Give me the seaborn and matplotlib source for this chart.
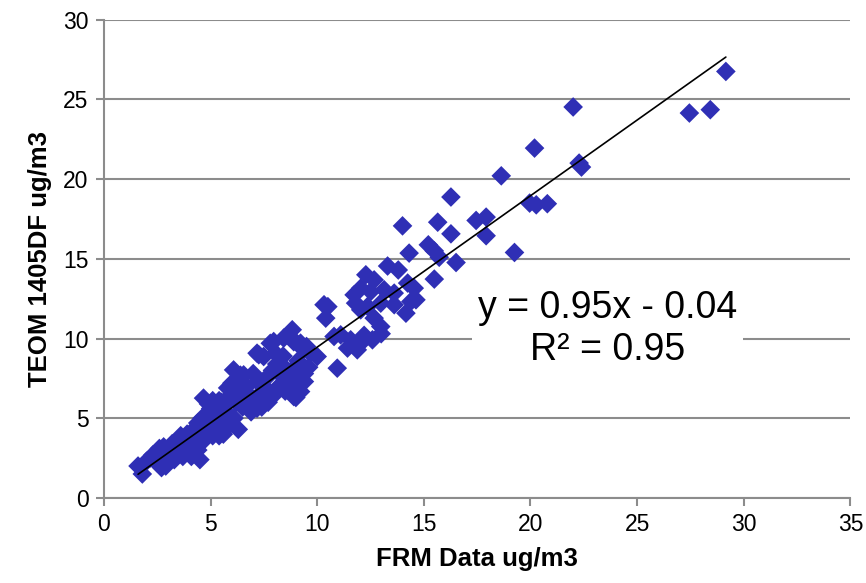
import numpy as np
import pandas as pd
import matplotlib
matplotlib.use("Agg")
import matplotlib.pyplot as plt
import seaborn as sns

# data (FRM vs TEOM, ug/m3)
frm = [29.16, 27.45, 28.43, 22.0, 20.19, 18.63, 22.28, 22.39, 19.96, 20.27,
       20.79, 17.92, 17.45, 17.92, 16.27, 15.65, 16.27, 19.25, 14.0, 14.31,
       15.21, 15.49, 15.72, 16.51, 15.49,
       13.3, 13.8, 12.28, 12.67, 14.24, 14.55, 12.04, 11.73, 12.51, 13.14,
       13.61, 14.63, 14.39, 12.98, 13.61, 14.16, 10.32, 10.4, 10.5, 11.8,
       12.04, 12.36, 12.67, 12.98, 11.1, 11.57, 12.04, 11.42, 11.88, 12.59,
       10.94, 12.2, 10.79, 13.0,
       8.83, 8.43, 7.96, 7.18, 7.49, 9.22, 9.37, 9.69, 8.75, 7.8,
       8.04, 9.53, 10.0, 6.08, 6.55, 9.22, 8.9, 7.18, 4.67, 7.26,
       9.0, 9.4, 8.7, 8.2, 7.7, 7.4, 7.0, 6.5, 6.3, 5.9,
       5.6, 5.3, 5.1, 4.6, 4.4, 4.5, 4.1, 3.7, 3.3, 2.9,
       2.7, 2.5, 1.8, 1.6, 2.0, 2.3, 2.8, 3.1, 3.5, 3.9,
       4.3, 4.6, 5.0, 5.2, 5.5, 5.8, 6.0, 6.3, 6.6, 6.8,
       7.2, 7.5, 7.9, 8.1, 8.4, 8.8, 9.1, 9.6, 9.5, 8.9,
       7.3, 6.9, 6.1, 5.7, 5.4, 4.9, 4.7, 4.2, 3.8, 3.2,
       6.2, 6.0, 5.8, 7.0, 6.4, 5.4, 5.0, 4.4, 3.6, 8.0,
       8.5, 8.3, 7.6, 9.2, 8.6, 9.0, 9.4, 5.1, 5.9, 6.7,
       2.2, 3.4, 4.0, 4.8, 5.6, 6.5, 4.9, 3.0, 2.6, 5.3]
teom = [26.76, 24.15, 24.36, 24.53, 21.95, 20.21, 21.01, 20.76, 18.5, 18.39,
        18.46, 17.62, 17.41, 16.45, 18.88, 17.3, 16.57, 15.4, 17.07, 15.36,
        15.88, 15.5, 15.1, 14.77, 13.73,
        14.55, 14.3, 14.0, 13.68, 13.48, 13.16, 13.16, 12.74, 12.95, 13.06,
        12.85, 12.43, 12.32, 12.22, 12.12, 11.59, 12.12, 11.28, 12.0, 12.22,
        11.8, 12.01, 11.28, 10.75, 10.23, 9.92, 9.71, 9.4, 9.29, 9.92,
        8.14, 10.2, 10.13, 10.3,
        10.55, 10.03, 9.81, 9.08, 8.87, 9.71, 9.29, 9.08, 10.1, 9.7,
        9.08, 9.29, 8.87, 8.03, 7.72, 6.67, 6.36, 5.63, 6.26, 8.98,
        6.8, 7.8, 7.5, 7.0, 6.0, 5.7, 6.2, 5.7, 4.3, 4.6,
        4.0, 4.5, 3.9, 3.5, 3.0, 2.4, 2.6, 2.6, 2.4, 2.0,
        1.9, 2.2, 1.5, 2.0, 2.3, 2.7, 3.2, 2.9, 3.6, 4.0,
        4.4, 5.0, 5.6, 5.2, 6.0, 5.3, 6.8, 6.5, 7.0, 6.4,
        7.3, 7.0, 8.0, 8.4, 8.9, 8.0, 8.6, 8.2, 9.5, 9.8,
        6.5, 5.4, 5.0, 4.9, 3.9, 4.3, 4.0, 3.6, 3.3, 3.4,
        6.0, 7.2, 6.9, 7.8, 7.7, 6.1, 4.7, 4.7, 3.9, 6.5,
        6.7, 7.7, 7.5, 7.9, 8.0, 6.3, 7.3, 6.1, 6.4, 7.0,
        2.5, 3.0, 3.8, 4.8, 5.8, 6.0, 5.9, 2.7, 3.1, 5.7]

slope = 0.95
intercept = -0.04
eq_text = "y = 0.95x - 0.04\nR\u00b2 = 0.95"

df = pd.DataFrame({"FRM": frm, "TEOM": teom})

sns.set_style("white")
plt.rcParams["font.family"] = ["Liberation Sans", "DejaVu Sans"]

fig = plt.figure(figsize=(8.66, 5.83), dpi=100)
ax = fig.add_axes([0.120, 0.146, 0.862, 0.820])

sns.scatterplot(data=df, x="FRM", y="TEOM", marker="D", s=100,
                color="#2F2FB5", edgecolor="none", linewidth=0, ax=ax, zorder=3)

# trendline
xs = np.array([min(frm), max(frm)])
ax.plot(xs, slope * xs + intercept, color="black", lw=1.2, zorder=4)

ax.text(23.6, 10.58, eq_text, ha="center", va="center", fontsize=27,
        linespacing=1.2, zorder=2, color="black",
        bbox=dict(facecolor="white", edgecolor="none", pad=4))

ax.set_xlim(0, 35)
ax.set_ylim(0, 30)
ax.set_xticks(range(0, 36, 5))
ax.set_yticks(range(0, 31, 5))
ax.yaxis.grid(True, color="#8c8c8c", lw=1.5)
ax.set_axisbelow(True)
for s in ["top", "right"]:
    ax.spines[s].set_visible(False)
for s in ["left", "bottom"]:
    ax.spines[s].set_color("#8c8c8c")
    ax.spines[s].set_linewidth(1.5)
ax.tick_params(axis="both", direction="out", length=6, width=1.5,
               color="#8c8c8c", labelcolor="black", labelsize=16.5, pad=5,
               left=True, bottom=True)

ax.set_xlabel("FRM Data ug/m3", fontsize=18.5, fontweight="bold",
              labelpad=8, color="black")
ax.set_ylabel("TEOM 1405DF ug/m3", fontsize=18.5, fontweight="bold",
              labelpad=8, color="black")

fig.savefig("out.png", dpi=100)
